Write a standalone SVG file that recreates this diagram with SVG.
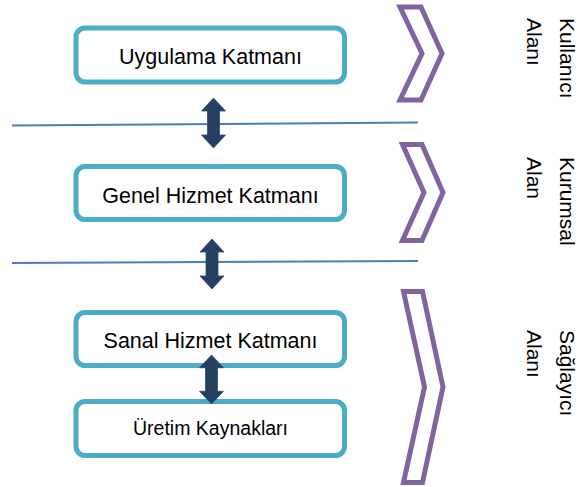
<svg xmlns="http://www.w3.org/2000/svg" width="588" height="487" viewBox="0 0 588 487">
  <style>
    .box { fill: #ffffff; stroke: #4bacc6; stroke-width: 5; }
    .lbl { font-family: "Liberation Sans", Arial, sans-serif; font-size: 21.5px; fill: #000000; text-anchor: middle; }
    .lbl-s { font-size: 19.5px; }
    .side { font-family: "Liberation Sans", Arial, sans-serif; font-size: 21px; fill: #000000; }
    .chev { fill: #ffffff; stroke: #8064a2; stroke-width: 5; stroke-linejoin: miter; }
    .sep { stroke: #4a7ebb; stroke-width: 2; fill: none; }
    .dbl { fill: #243f60; stroke: #2e4d73; stroke-width: 0.8; }
  </style>
  <defs>
    <path id="dblarrow" d="M0,0 L12,13 L6,13 L6,37 L12,37 L0,50 L-12,37 L-6,37 L-6,13 L-12,13 Z"/>
  </defs>

  <g id="separators">
    <line class="sep" x1="12" y1="125.5" x2="418" y2="122.5"/>
    <line class="sep" x1="12" y1="263" x2="418" y2="261"/>
  </g>

  <g id="node-uygulama">
    <rect class="box" x="76" y="28" width="268.5" height="54" rx="9"/>
    <text class="lbl" x="210.5" y="64">Uygulama Katmanı</text>
  </g>
  <g id="node-genel">
    <rect class="box" x="76" y="166.5" width="268.5" height="53" rx="9"/>
    <text class="lbl" x="210.5" y="202.5">Genel Hizmet Katmanı</text>
  </g>
  <g id="node-sanal">
    <rect class="box" x="76" y="312.5" width="268.5" height="53" rx="9"/>
    <text class="lbl" x="210.5" y="348">Sanal Hizmet Katmanı</text>
  </g>
  <g id="node-uretim">
    <rect class="box" x="76" y="401.5" width="268.5" height="54" rx="9"/>
    <text class="lbl lbl-s" x="210.5" y="435">Üretim Kaynakları</text>
  </g>

  <g id="connectors">
    <use href="#dblarrow" class="dbl" transform="translate(213.5,98)"/>
    <use href="#dblarrow" class="dbl" transform="translate(212,239)"/>
    <use href="#dblarrow" class="dbl" transform="translate(211.5,355) scale(1,0.98)"/>
  </g>

  <g id="area-kullanici">
    <path class="chev" d="M400,7 L421,7 L442,53.5 L421,100 L400,100 L422,53.5 Z"/>
    <text class="side" transform="translate(560,18) rotate(90)">Kullanıcı</text>
    <text class="side" transform="translate(527,18) rotate(90)">Alanı</text>
  </g>
  <g id="area-kurumsal">
    <path class="chev" d="M402.5,144.5 L422,144.5 L443,192.5 L422,240.5 L402.5,240.5 L424,192.5 Z"/>
    <text class="side" transform="translate(560,157) rotate(90)">Kurumsal</text>
    <text class="side" transform="translate(527,157) rotate(90)">Alan</text>
  </g>
  <g id="area-saglayici">
    <path class="chev" d="M403.5,291.5 L422.5,291.5 L443,387 L422.5,482.5 L403.5,482.5 L424.5,387 Z"/>
    <text class="side" transform="translate(560,330) rotate(90)">Sağlayıcı</text>
    <text class="side" transform="translate(527,330) rotate(90)">Alanı</text>
  </g>
</svg>
